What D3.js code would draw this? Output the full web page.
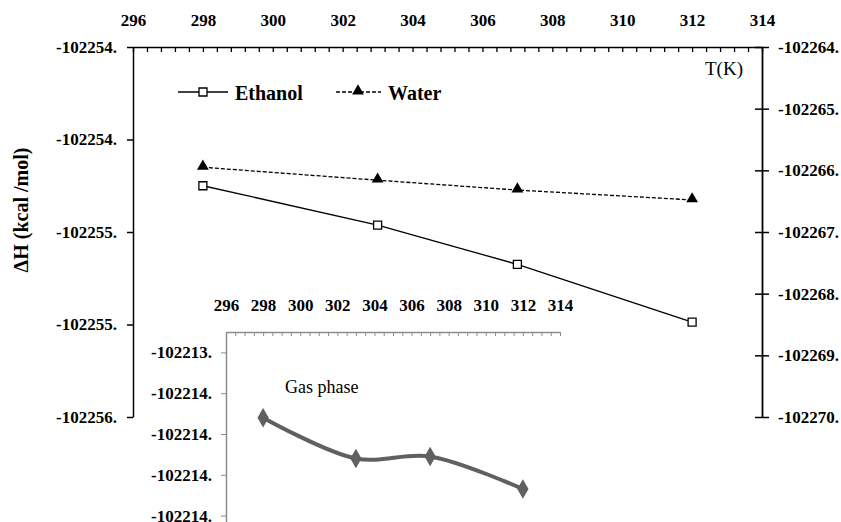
<!DOCTYPE html>
<html>
<head>
<meta charset="utf-8">
<script src="https://cdn.jsdelivr.net/npm/d3@7"></script>
<style>
  body { margin: 0; background: #fff; }
</style>
</head>
<body>
<div id="chart"></div>
<script>
// temperatures (K)
const temps = [298, 303, 307, 312];
// main chart series
const ethanol = [-102254.60, -102254.77, -102254.94, -102255.19];
const water = [-102265.95, -102266.16, -102266.32, -102266.48];
// inset (gas phase)
const gas = [-102213.72, -102213.92, -102213.91, -102214.07];

const xTicks = [296, 298, 300, 302, 304, 306, 308, 310, 312, 314];
const leftTicks = [-102254.0, -102254.4, -102254.8, -102255.2, -102255.6];
const rightTicks = [-102264, -102265, -102266, -102267, -102268, -102269, -102270];
const insetYTicks = [-102213.4, -102213.6, -102213.8, -102214.0, -102214.2];

const width = 841, height = 522;
const fmt = d => Math.round(d) + '.';
const SERIF = 'Liberation Serif';

const svg = d3.select('#chart').append('svg')
  .attr('width', width).attr('height', height);

// small helper for free text
function label(parent, x, y, txt, size, weight) {
  return parent.append('text')
    .attr('x', x).attr('y', y)
    .style('font-family', SERIF)
    .style('font-size', size + 'px')
    .style('font-weight', weight || 'normal')
    .attr('fill', '#000')
    .text(txt);
}

// tick labels: bold serif, black
function styleLabels(g) {
  g.selectAll('text')
    .style('font-family', SERIF)
    .style('font-size', '17px')
    .style('font-weight', 'bold')
    .attr('fill', '#000');
}

// ---- main chart ----
const x = d3.scaleLinear().domain([296, 314]).range([133, 762]);
const yL = d3.scaleLinear().domain([-102254.0, -102255.6]).range([47, 417]);
const yR = d3.scaleLinear().domain([-102264, -102270]).range([47, 417]);

// top axis, minor ticks every 0.4
const minorX = d3.range(0, 46).map(i => 296 + i * 0.4);
svg.append('g')
  .attr('transform', 'translate(0,47)')
  .call(d3.axisTop(x).tickValues(minorX).tickSize(-5).tickSizeOuter(0).tickFormat(''))
  .call(g => g.select('.domain').attr('stroke-width', 1.5))
  .call(g => g.selectAll('.tick line').attr('stroke-width', 1.3));

svg.append('g')
  .attr('transform', 'translate(0,47)')
  .call(d3.axisTop(x).tickValues(xTicks).tickSize(0).tickPadding(21).tickFormat(d3.format('d')))
  .call(g => g.select('.domain').remove())
  .call(styleLabels);

// left axis
svg.append('g')
  .attr('transform', 'translate(133,0)')
  .call(d3.axisLeft(yL).tickValues(leftTicks).tickSize(6).tickSizeOuter(0).tickPadding(10).tickFormat(fmt))
  .call(g => g.select('.domain').attr('stroke-width', 1.5))
  .call(g => g.selectAll('.tick line').attr('stroke-width', 1.5))
  .call(styleLabels);

// right axis (ticks cross the line)
svg.append('g')
  .attr('transform', 'translate(762,0)')
  .call(d3.axisRight(yR).tickValues(rightTicks).tickSize(7).tickSizeOuter(0).tickPadding(9).tickFormat(fmt))
  .call(g => g.select('.domain').attr('stroke-width', 1.8))
  .call(g => g.selectAll('.tick line').attr('x1', -7).attr('stroke-width', 1.5))
  .call(styleLabels);

// series lines
const ethLine = d3.line().x((d, i) => x(temps[i])).y(d => yL(d));
const watLine = d3.line().x((d, i) => x(temps[i])).y(d => yR(d));

svg.append('path').datum(ethanol)
  .attr('d', ethLine).attr('fill', 'none')
  .attr('stroke', '#000').attr('stroke-width', 1.3);

svg.append('path').datum(water)
  .attr('d', watLine).attr('fill', 'none')
  .attr('stroke', '#000').attr('stroke-width', 1.3)
  .attr('stroke-dasharray', '4,2');

const square = d3.symbol().type(d3.symbolSquare).size(64);
const triangle = d3.symbol().type(d3.symbolTriangle).size(60);

svg.append('g').selectAll('path')
  .data(ethanol).join('path')
  .attr('transform', (d, i) => `translate(${x(temps[i])},${yL(d)})`)
  .attr('d', square).attr('fill', '#fff').attr('stroke', '#000').attr('stroke-width', 1.3);

svg.append('g').selectAll('path')
  .data(water).join('path')
  .attr('transform', (d, i) => `translate(${x(temps[i])},${yR(d) - 1})`)
  .attr('d', triangle).attr('fill', '#000');

// legend
const legend = svg.append('g');
legend.append('line').attr('x1', 178).attr('x2', 228).attr('y1', 92).attr('y2', 92)
  .attr('stroke', '#000').attr('stroke-width', 1.3);
legend.append('path').attr('transform', 'translate(203,92)')
  .attr('d', square).attr('fill', '#fff').attr('stroke', '#000').attr('stroke-width', 1.3);
label(legend, 235, 100, 'Ethanol', 20, 'bold');

legend.append('line').attr('x1', 336).attr('x2', 381).attr('y1', 92).attr('y2', 92)
  .attr('stroke', '#000').attr('stroke-width', 1.3).attr('stroke-dasharray', '4,2');
legend.append('path').attr('transform', 'translate(358,91)')
  .attr('d', triangle).attr('fill', '#000');
label(legend, 388, 100, 'Water', 20, 'bold');

label(svg, 705, 75, 'T(K)', 19);

label(svg, 0, 0, 'ΔH (kcal /mol)', 20, 'bold')
  .attr('transform', 'translate(28,210) rotate(-90)')
  .attr('text-anchor', 'middle');

// ---- inset: gas phase ----
const xi = d3.scaleLinear().domain([296, 314]).range([226, 560]);
const yi = d3.scaleLinear().domain([-102213.3, -102214.3]).range([332, 536]);
const inset = svg.append('g');

const minorXi = d3.range(0, 37).map(i => 296 + i * 0.5);
inset.append('g')
  .attr('transform', 'translate(0,332)')
  .call(d3.axisTop(xi).tickValues(minorXi).tickSize(-4).tickSizeOuter(0).tickFormat(''))
  .call(g => g.selectAll('line, path').attr('stroke', '#8c8c8c'))
  .call(g => g.select('.domain').attr('stroke-width', 1.5));

inset.append('g')
  .attr('transform', 'translate(0,332)')
  .call(d3.axisTop(xi).tickValues(xTicks).tickSize(0).tickPadding(21).tickFormat(d3.format('d')))
  .call(g => g.select('.domain').remove())
  .call(styleLabels);

inset.append('g')
  .attr('transform', 'translate(226,0)')
  .call(d3.axisLeft(yi).tickValues(insetYTicks).tickSize(5).tickSizeOuter(0).tickPadding(9).tickFormat(fmt))
  .call(g => g.selectAll('line, path').attr('stroke', '#8c8c8c'))
  .call(g => g.select('.domain').attr('stroke-width', 1.5))
  .call(styleLabels);

label(inset, 285, 393, 'Gas phase', 18);

const gasLine = d3.line().x((d, i) => xi(temps[i])).y(d => yi(d)).curve(d3.curveCatmullRom);
inset.append('path').datum(gas)
  .attr('d', gasLine).attr('fill', 'none')
  .attr('stroke', '#606060').attr('stroke-width', 4);

const diamond = d3.symbol().type(d3.symbolDiamond).size(110);
inset.append('g').selectAll('path')
  .data(gas).join('path')
  .attr('transform', (d, i) => `translate(${xi(temps[i])},${yi(d)})`)
  .attr('d', diamond).attr('fill', '#606060');
</script>
</body>
</html>
